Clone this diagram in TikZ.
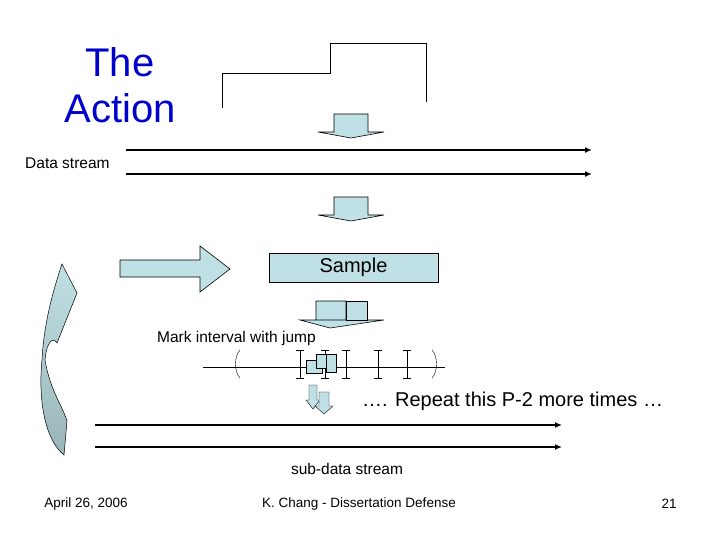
\documentclass[tikz,border=0pt]{standalone}
\usepackage{fontspec}
\setmainfont{Liberation Sans}
\usetikzlibrary{arrows.meta}
\definecolor{boxblue}{HTML}{BFE0E4}
\definecolor{titleblue}{HTML}{0000CC}
\definecolor{darkteal}{HTML}{9AB5B8}
\tikzset{
  blk/.style={draw,fill=boxblue,line width=0.6pt},
  stream/.style={line width=1.6pt,-{Latex[length=7pt,width=6pt]}},
  lbl/.style={inner sep=0pt,font=\fontsize{15.5}{18}\selectfont},
}
\newcommand{\dnarrow}[5]{% box left, box right, top, wing y, tip y
  \draw[blk] (#1,#3) -- (#2,#3) -- (#2,#4) -- (#2+16,#4) -- ({(#1+#2)/2},#5)
    -- (#1-16,#4) -- (#1,#4) -- cycle;}
\begin{document}
\begin{tikzpicture}[x=1pt,y=-1pt,>=Latex]
  \useasboundingbox (0,0) rectangle (720,540);
  %
  % Title
  \node[titleblue,font=\fontsize{40}{46}\selectfont,align=center] (title) at (120,85) {The\\Action};
  %
  % Step signal
  \draw[line width=0.8pt] (222,108) -- (222,73) -- (330,73) -- (330,43) -- (426,43) -- (426,102);
  %
  % Data stream
  \node[lbl,anchor=west] (data) at (25,163) {Data stream};
  \coordinate (d1a) at (126,150); \coordinate (d1b) at (592,150);
  \coordinate (d2a) at (126,174); \coordinate (d2b) at (592,174);
  \draw[stream] (d1a) -- (d1b);
  \draw[stream] (d2a) -- (d2b);
  \dnarrow{334}{368}{114}{132}{138}
  \dnarrow{334}{368}{197}{215}{221}
  %
  % Sample
  \node[draw,fill=boxblue,line width=0.6pt,minimum width=169pt,minimum height=29pt,
    font=\fontsize{20}{24}\selectfont] (sample) at (353.5,267.5) {Sample};
  \draw[blk] (120,260) -- (200,260) -- (200,246) -- (230,269) -- (200,292) -- (200,277) -- (120,277) -- cycle;
  %
  % Mark intervals
  \draw[blk] (316,301) -- (346,301) -- (346,320) -- (300,320) -- (330,328) -- (384,320) -- (316,320) -- cycle;
  \draw[blk] (346,301) -- (367,301) -- (367,320) -- (346,320) -- cycle;
  \node[lbl,anchor=west] (mark) at (157,338) {Mark interval with jump};
  \coordinate (ia) at (203,367); \coordinate (ib) at (445,367);
  \draw[line width=0.6pt] (ia) -- (ib);
  \draw (240,350) .. controls (234,356) and (234,372) .. (240,378);
  \draw (432,350) .. controls (438,356) and (438,372) .. (432,378);
  \foreach \x in {300,325,346,378,407} {
    \draw (\x-4,350) -- (\x+4,350) (\x,350) -- (\x,378) (\x-4,378) -- (\x+4,378);
  }
  \draw[blk,line width=0.4pt] (306,360) rectangle (322,373);
  \draw[blk,line width=0.4pt] (316,354) rectangle (336,368);
  \draw[blk,line width=0.4pt] (326,354) rectangle (336,372);
  %
  % Small arrows
  \draw[blk,line width=0.4pt] (309,385) -- (317,385) -- (317,400) -- (320,400) -- (313,409) -- (306,400) -- (309,400) -- cycle;
  \draw[blk,line width=0.4pt] (319,392) -- (329,392) -- (329,406) -- (333,406) -- (324,414) -- (315,406) -- (319,406) -- cycle;
  \node[anchor=west,inner sep=0pt,font=\fontsize{20}{24}\selectfont] (repeat) at (362,401) {…. Repeat this P-2 more times …};
  %
  % Sub-data stream
  \coordinate (s1a) at (95,425); \coordinate (s1b) at (562,425);
  \coordinate (s2a) at (95,447); \coordinate (s2b) at (562,447);
  \draw[stream] (s1a) -- (s1b);
  \draw[stream] (s2a) -- (s2b);
  \node[lbl] (sub) at (347,469) {sub-data stream};
  %
  % Loop-back arrow
  \shade[top color=boxblue,bottom color=darkteal,draw=black,line width=0.5pt]
    (62,264) -- (77,293) -- (57,343) .. controls (52,335) and (46,345) .. (45,360)
    .. controls (50,390) and (62,405) .. (67,421) -- (64,455)
    .. controls (45,440) and (38,400) .. (42,360)
    .. controls (44,320) and (55,285) .. (62,264) -- cycle;
  %
  % Footer
  \node[lbl,font=\fontsize{13.5}{16}\selectfont] (date) at (86,504) {April 26, 2006};
  \node[lbl,font=\fontsize{13.5}{16}\selectfont] (foot) at (359,504) {K. Chang - Dissertation Defense};
  \node[lbl,font=\fontsize{13.5}{16}\selectfont] (page) at (669,504) {21};
\end{tikzpicture}
\end{document}
